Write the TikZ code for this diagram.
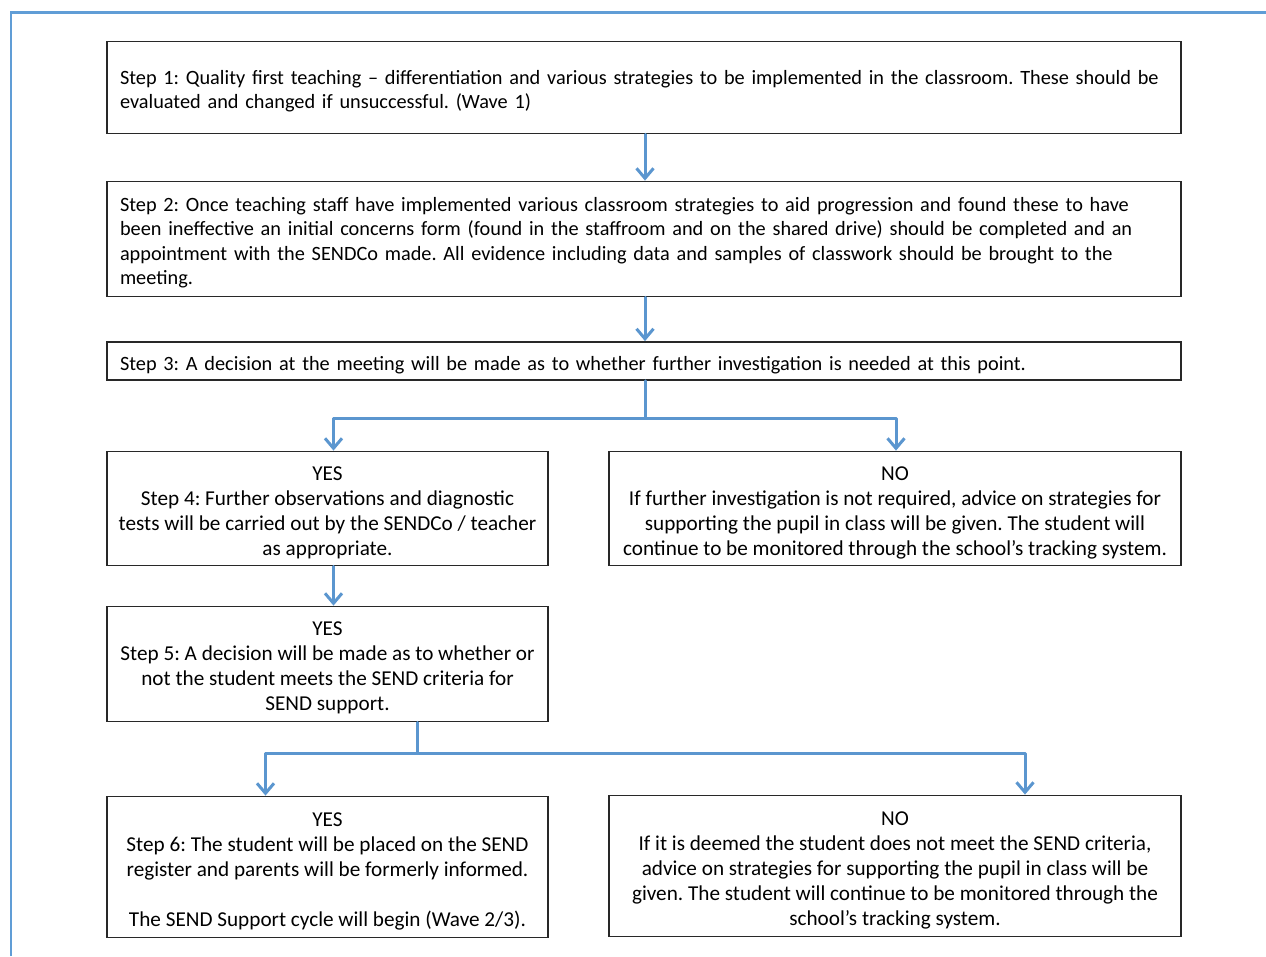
\documentclass[tikz,border=0pt]{standalone}
\usepackage{fontspec}
\setmainfont{Carlito}
\usetikzlibrary{arrows.meta,calc}
\definecolor{framecol}{RGB}{96,157,214}
\definecolor{arrowcol}{RGB}{91,150,207}
\definecolor{boxcol}{RGB}{40,40,40}
\newcommand{\firstln}{\rule{0pt}{22pt}}
\tikzset{
  box/.style={draw=boxcol, line width=1.8pt, inner ysep=0pt, text=black},
  lbox/.style={box, text width=1048pt, inner xsep=13pt, align=left,
    font=\fontsize{20.3}{24.6}\selectfont\frenchspacing,
    execute at begin node={\rule{0pt}{21.5pt}}},
  cbox/.style={box, align=center, inner xsep=0pt,
    font=\fontsize{21.2}{25}\selectfont\frenchspacing},
  flow/.style={draw=arrowcol, line width=3pt, line cap=round, line join=round},
  arr/.style={flow, -{Straight Barb[length=10pt,width=17pt,line width=3pt]}},
}
\begin{document}
\begin{tikzpicture}[x=1pt,y=-1pt]
\useasboundingbox (0,0) rectangle (1266,956);
\draw[framecol, line width=2.6pt] (11,956) -- (11,12.5) -- (1266,12.5);

\node[lbox, minimum height=92pt] (b1) at (644,87.5)
 {Step 1: Quality first teaching -- differentiation and various strategies to be implemented in the classroom. These should be\\
  evaluated and changed if unsuccessful. (Wave 1)};
\node[lbox, minimum height=115pt] (b2) at (644,239)
 {Step 2: Once teaching staff have implemented various classroom strategies to aid progression and found these to have\\
  been ineffective an initial concerns form (found in the staffroom and on the shared drive) should be completed and an\\
  appointment with the SENDCo made. All evidence including data and samples of classwork should be brought to the\\
  meeting.};
\node[lbox, minimum height=38pt] (b3) at (644,361)
 {Step 3: A decision at the meeting will be made as to whether further investigation is needed at this point.};

\node[cbox, minimum width=441pt, minimum height=114pt] (b4) at (327.5,508.5)
 {\firstln YES\\ Step 4: Further observations and diagnostic\\ tests will be carried out by the SENDCo / teacher\\ as appropriate.};
\node[cbox, minimum width=572pt, minimum height=114pt] (n1) at (895,508.5)
 {\firstln NO\\ If further investigation is not required, advice on strategies for\\ supporting the pupil in class will be given. The student will\\ continue to be monitored through the school’s tracking system.};

\node[cbox, minimum width=441pt, minimum height=115pt] (b5) at (327.5,664)
 {\firstln YES\\ Step 5: A decision will be made as to whether or\\ not the student meets the SEND criteria for\\ SEND support.};

\node[cbox, minimum width=441pt, minimum height=141pt] (b6) at (327.5,867)
 {\firstln YES\\ Step 6: The student will be placed on the SEND\\ register and parents will be formerly informed.\\ \mbox{}\\ The SEND Support cycle will begin (Wave 2/3).};
\node[cbox, minimum width=572pt, minimum height=141pt] (n2) at (895,866)
 {\firstln NO\\ If it is deemed the student does not meet the SEND criteria,\\ advice on strategies for supporting the pupil in class will be\\ given. The student will continue to be monitored through the\\ school’s tracking system.};

\draw[arr] ([xshift=1pt]b1.south) -- ([xshift=1pt]b2.north);
\draw[arr] ([xshift=1pt]b2.south) -- ([xshift=1pt]b3.north);

\coordinate (j1) at (645,418);
\draw[flow] (b3.south -| j1) -- (j1);
\draw[arr] (j1) -| ([xshift=6pt]b4.north);
\draw[arr] (j1) -| ([xshift=1pt]n1.north);

\draw[arr] ([xshift=6pt]b4.south) -- ([xshift=6pt]b5.north);

\coordinate (j2) at (417,753);
\draw[flow] (b5.south -| j2) -- (j2);
\draw[arr] (j2) -| ([xshift=-62pt]b6.north);
\draw[arr] (j2) -| ([xshift=130pt]n2.north);
\end{tikzpicture}
\end{document}
